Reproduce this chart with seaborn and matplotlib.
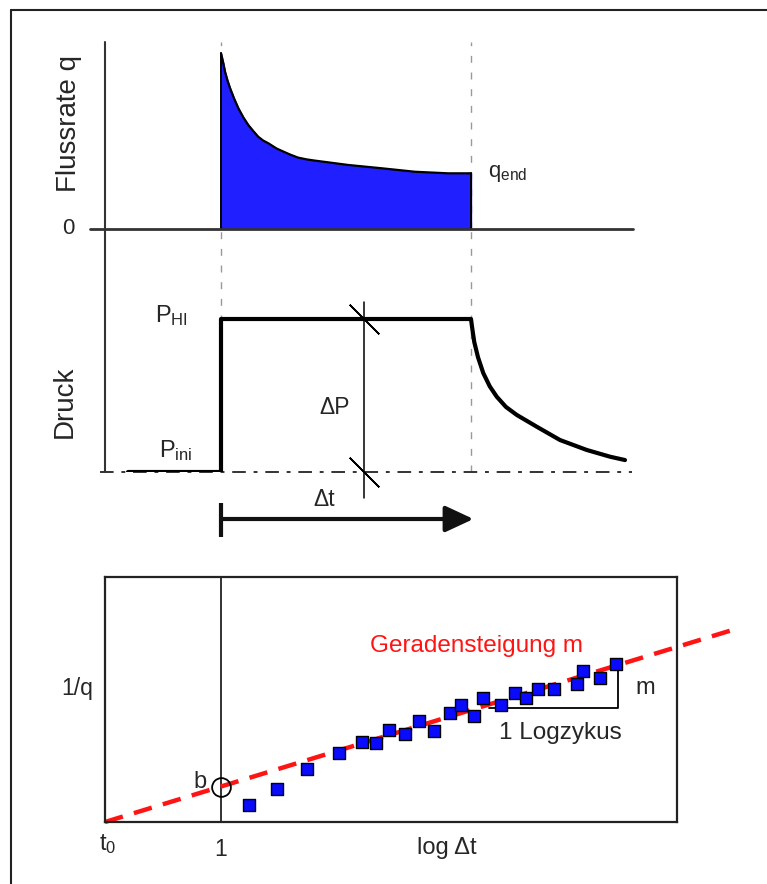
import matplotlib
matplotlib.use("Agg")
import matplotlib.pyplot as plt
from matplotlib.lines import Line2D
import seaborn as sns

sns.set_theme(style="white")
plt.rcParams['font.family'] = ['Liberation Sans', 'DejaVu Sans']
plt.rcParams['mathtext.fontset'] = 'custom'
plt.rcParams['mathtext.rm'] = 'Liberation Sans'
plt.rcParams['mathtext.it'] = 'Liberation Sans:italic'
plt.rcParams['mathtext.sf'] = 'Liberation Sans'

# ---- flow period: time since opening (0 = opening, 10 = shut-in) ----
flow_time = [0.0, 0.093, 0.16, 0.253, 0.36, 0.52, 0.69, 0.89, 1.09, 1.29,
             1.49, 1.69, 1.89, 2.23, 2.76, 3.09, 3.43, 3.76, 5.09, 6.43,
             7.76, 9.09, 10.0]
flow_rate = [1.01, 0.952, 0.904, 0.856, 0.810, 0.751, 0.695, 0.642, 0.598,
             0.563, 0.530, 0.508, 0.493, 0.462, 0.428, 0.410, 0.400, 0.393,
             0.368, 0.349, 0.329, 0.320, 0.320]

# ---- pressure history (0 = P_ini, 1 = P_HI) ----
press_time = [-3.72, 0.0, 0.0, 10.0, 10.04, 10.13, 10.28, 10.49, 10.75,
              11.03, 11.4, 11.83, 12.63, 13.56, 14.63, 15.56, 16.16]
press_value = [0.0, 0.0, 1.0, 1.0, 0.95, 0.85, 0.75, 0.647, 0.56, 0.492,
               0.425, 0.373, 0.296, 0.209, 0.144, 0.100, 0.078]
t_open, t_shut = 0.0, 10.0
p_ini, p_hi = 0.0, 1.0

# ---- semilog analysis: 1/q versus log(dt) ----
log_dt = [1.240, 1.487, 1.739, 2.021, 2.212, 2.332, 2.448, 2.584, 2.704,
          2.832, 2.971, 3.068, 3.177, 3.259, 3.410, 3.534, 3.628, 3.737,
          3.868, 4.071, 4.123, 4.270, 4.402]
inv_q = [0.173, 0.329, 0.532, 0.688, 0.798, 0.788, 0.921, 0.881, 1.007,
         0.907, 1.087, 1.170, 1.057, 1.237, 1.173, 1.293, 1.237, 1.330,
         1.330, 1.380, 1.512, 1.439, 1.579]
fit_intercept = 0.0
fit_slope = 0.355
fit_x = [0.0, 5.43]

W, H = 767, 884
fig = plt.figure(figsize=(W / 100, H / 100), dpi=100)
fig.patch.set_facecolor("white")


def add_axes_px(left, top, right, bottom):
    return fig.add_axes([left / W, 1 - bottom / H, (right - left) / W,
                         (bottom - top) / H])


# frame around the figure (top and left edges)
fig.add_artist(Line2D([11 / W, 11 / W], [0, 1 - 10 / H], color="#222222", lw=1.5))
fig.add_artist(Line2D([11 / W, 1], [1 - 10 / H, 1 - 10 / H], color="#222222", lw=1.5))

t_lim = ((90 - 221) / 25, (640 - 221) / 25)
t_axis = (105 - 221) / 25

# ================= flow rate panel =================
ax_q = add_axes_px(90, 42, 640, 229)
ax_q.set_xlim(*t_lim)
ax_q.set_ylim(0, (229 - 42) / 174)
ax_q.axis("off")

ax_q.fill_between(flow_time, flow_rate, 0, color="#1f1fff", zorder=2)
sns.lineplot(x=flow_time, y=flow_rate, ax=ax_q, color="black", lw=1.6,
             sort=False, estimator=None, zorder=3)
ax_q.lines[-1].set_solid_joinstyle("round")
ax_q.plot([flow_time[0], flow_time[0]], [0, flow_rate[0]], color="black", lw=1.4, zorder=3)
ax_q.plot([flow_time[-1], flow_time[-1]], [0, flow_rate[-1]], color="black", lw=1.4, zorder=3)

ax_q.axvline(t_axis, 0, 1, color="#333333", lw=1.5, clip_on=False)
ax_q.plot([(90 - 221) / 25, (633 - 221) / 25], [0, 0], color="#333333", lw=2,
          clip_on=False, zorder=4)
for tv in (t_open, t_shut):
    ax_q.axvline(tv, 0, 1, color="#999999", lw=1, ls=(0, (5, 7)), zorder=1)

ax_q.text((68 - 221) / 25, 0, "0", fontsize=16, ha="center", va="center")
ax_q.text((69 - 221) / 25, (229 - 124) / 174, "Flussrate q", fontsize=20,
          rotation=90, ha="center", va="center")
ax_q.text(t_shut + 0.7, flow_rate[-1], r"q$_{\mathrm{end}}$", fontsize=16,
          ha="left", va="center")

# ================= pressure panel =================
ax_p = add_axes_px(90, 229, 640, 472)
ax_p.set_xlim(*t_lim)
ax_p.set_ylim(0, (472 - 229) / 153)
ax_p.axis("off")

ax_p.axvline(t_axis, 0, 1, color="#333333", lw=1.5, clip_on=False)
for tv in (t_open, t_shut):
    ax_p.axvline(tv, 0, 1, color="#999999", lw=1, ls=(0, (5, 7)), zorder=1)

ax_p.plot([(100 - 221) / 25, (632 - 221) / 25], [p_ini, p_ini], color="#333333",
          lw=1.4, ls=(0, (7, 4, 2, 4)), clip_on=False, zorder=2)
sns.lineplot(x=press_time, y=press_value, ax=ax_p, color="black", lw=3,
             sort=False, estimator=None, zorder=3)
ax_p.lines[-1].set_solid_joinstyle("round")

# pressure difference marker
t_dp = (364 - 221) / 25
ax_p.plot([t_dp, t_dp], [1.111, -0.170], color="black", lw=1.1, clip_on=False)
ax_p.plot([t_dp, t_dp], [p_hi, p_ini], ls="none", marker=(2, 2, 45),
          markersize=30, markeredgewidth=1.2, color="black", clip_on=False)
ax_p.text((335 - 221) / 25, (472 - 408) / 153, "ΔP", fontsize=16.5,
          ha="center", va="center")

ax_p.text((155 - 221) / 25, (472 - 322) / 153, r"P$_{\mathrm{HI}}$", fontsize=17,
          ha="left", va="baseline")
ax_p.text((159 - 221) / 25, (472 - 457) / 153, r"P$_{\mathrm{ini}}$", fontsize=17,
          ha="left", va="baseline")
ax_p.text((65 - 221) / 25, (472 - 402) / 153, "Druck", fontsize=20,
          rotation=90, ha="center", va="center")

# duration arrow
y_arrow = (472 - 519) / 153
ax_p.annotate("", xy=(t_shut + 0.1, y_arrow), xytext=(t_open, y_arrow),
              arrowprops=dict(arrowstyle="-|>,head_length=0.43,head_width=0.2",
                              mutation_scale=40, lw=3, color="#111111",
                              shrinkA=0, shrinkB=0),
              annotation_clip=False)
ax_p.plot([t_open, t_open], [(472 - 503) / 153, (472 - 537) / 153],
          color="#111111", lw=3, clip_on=False, solid_capstyle="butt")
ax_p.text((324 - 221) / 25, (472 - 500) / 153, "Δt", fontsize=16.5,
          ha="center", va="center")

# ================= semilog panel =================
ax_s = add_axes_px(105, 577, 677, 822)
ax_s.set_xlim(0, 572 / 116)
ax_s.set_ylim(0, 2.45)
ax_s.set_xticks([])
ax_s.set_yticks([])
for sp in ax_s.spines.values():
    sp.set_visible(True)
    sp.set_color("#222222")
    sp.set_linewidth(1.6)

ax_s.axvline(1, color="#222222", lw=1.3, zorder=1)

fit_y = [fit_intercept + fit_slope * x for x in fit_x]
sns.lineplot(x=fit_x, y=fit_y, ax=ax_s, color="#ff1414", lw=3.2,
             dashes=False, estimator=None, zorder=2)
ax_s.lines[-1].set_dashes((4.2, 2.6))
ax_s.lines[-1].set_clip_on(False)

sns.scatterplot(x=log_dt, y=inv_q, ax=ax_s, marker="s", s=78, color="#0a0aff",
                edgecolor="black", linewidth=1, zorder=4)

b_val = fit_intercept + fit_slope * 1.0
ax_s.plot([1.0], [b_val], marker="o", markersize=13.5, markerfacecolor="none",
          markeredgecolor="black", markeredgewidth=1.3, ls="none", zorder=5)

# slope triangle over one log cycle
tri_y = (822 - 708) / 100
tri_x0, tri_x1 = 3.31, log_dt[-1] + 0.02
ax_s.plot([tri_x0, tri_x1, tri_x1], [tri_y, tri_y, inv_q[-1]], color="black",
          lw=1.3, zorder=3)

ax_s.text((477 - 105) / 116, (822 - 646) / 100, "Geradensteigung m",
          fontsize=17.5, color="#ff1414", ha="center", va="center")
ax_s.text((645 - 105) / 116, (822 - 688) / 100, "m", fontsize=17,
          ha="center", va="center")
ax_s.text((560 - 105) / 116, (822 - 733) / 100, "1 Logzykus", fontsize=17.5,
          ha="center", va="center")
ax_s.text((200 - 105) / 116, (822 - 782) / 100, "b", fontsize=17,
          ha="center", va="center")
ax_s.text((77 - 105) / 116, (822 - 688) / 100, "1/q", fontsize=16.5,
          ha="center", va="center")
ax_s.text((99 - 105) / 116, (822 - 850) / 100, r"t$_{0}$", fontsize=17,
          ha="left", va="baseline")
ax_s.text(1.0, (822 - 849) / 100, "1", fontsize=16.5, ha="center", va="center")
ax_s.text((447 - 105) / 116, (822 - 848) / 100, "log Δt", fontsize=17,
          ha="center", va="center")

fig.savefig("out.png", dpi=100, facecolor="white")
